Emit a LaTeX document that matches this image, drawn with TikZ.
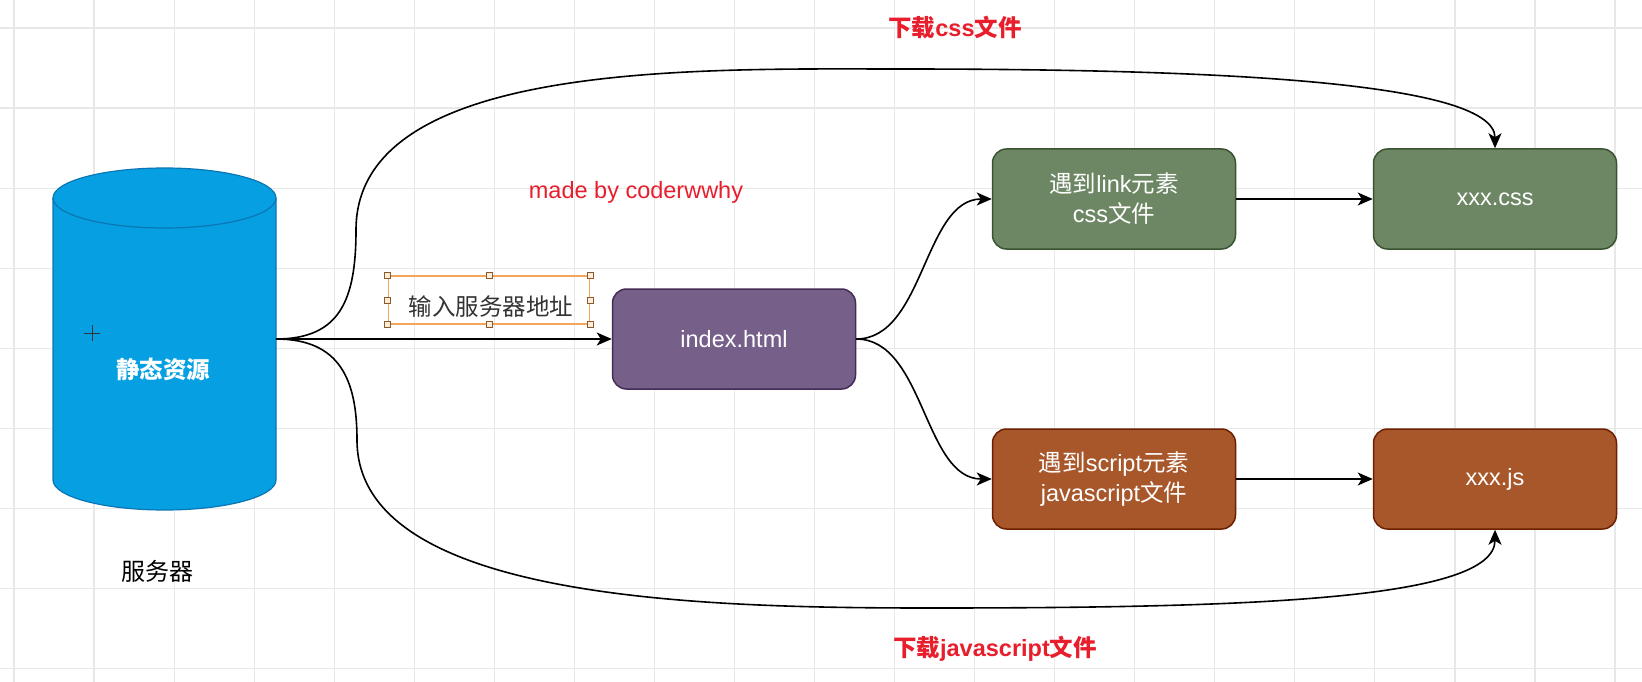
\documentclass[tikz,border=0pt]{standalone}
\usepackage{fontspec}
\setmainfont{Liberation Sans}
\newfontfamily\cjk{Noto Sans CJK SC}
\usepackage{tikz}
\usetikzlibrary{positioning, arrows.meta, shapes.geometric}

\definecolor{gridgray}{HTML}{E8E8E8}
\definecolor{dbfill}{HTML}{06A0E2}
\definecolor{dbborder}{HTML}{0A76B4}
\definecolor{pagefill}{HTML}{76608A}
\definecolor{pageborder}{HTML}{432D57}
\definecolor{cssfill}{HTML}{6D8764}
\definecolor{cssborder}{HTML}{3A5431}
\definecolor{jsfill}{HTML}{A8572B}
\definecolor{jsborder}{HTML}{6D1F00}
\definecolor{selorange}{HTML}{F2A55A}
\definecolor{handleedge}{HTML}{8A5A2B}
\definecolor{notered}{HTML}{E81E2C}
\definecolor{textgray}{HTML}{333333}

\begin{document}
\begin{tikzpicture}[x=1pt, y=-1pt,
    gridline/.style={draw=gridgray, line width=1.2pt},
    dbanchor/.style={rectangle, minimum width=223pt, minimum height=342pt, inner sep=0pt, outer sep=0pt},
    dbpaint/.style={draw=dbborder, fill=dbfill, line width=1.2pt},
    filebox/.style={rectangle, rounded corners=14pt, line width=1.5pt, minimum width=243pt,
        minimum height=100pt, align=center, text=white, font=\fontsize{23.5}{30}\selectfont},
    pagebox/.style={filebox, fill=pagefill, draw=pageborder},
    cssbox/.style={filebox, fill=cssfill, draw=cssborder},
    jsbox/.style={filebox, fill=jsfill, draw=jsborder},
    addrbox/.style={draw=selorange, line width=1.5pt, minimum width=201pt, minimum height=48pt, inner sep=0pt},
    addrtext/.style={text=textgray, font=\cjk\fontsize{23.5}{28}\selectfont},
    handle/.style={draw=handleedge, fill=orange!15, line width=0.8pt, minimum size=6pt, inner sep=0pt},
    cjktext/.style={text=black, font=\cjk\fontsize{24}{28}\selectfont},
    dbtext/.style={text=white, font=\cjk\bfseries\fontsize{23.5}{28}\selectfont},
    redlabel/.style={text=notered, font=\fontsize{23.5}{28}\selectfont},
    redtitle/.style={text=notered, font=\bfseries\fontsize{23.5}{28}\selectfont},
    flow/.style={line width=1.6pt, -{Stealth[length=15pt, width=13pt, inset=4pt]}}
]
    \fill[white] (0,0) rectangle (1642,682);
    \useasboundingbox (0,0) rectangle (1642,682);

    % background grid
    \foreach \gx in {0,...,20}
        \draw[gridline] ({14+80.05*\gx},0) -- ({14+80.05*\gx},682);
    \foreach \gy in {0,...,8}
        \draw[gridline] (0,{28+80.1*\gy}) -- (1642,{28+80.1*\gy});

    % server
    \node[dbanchor] (server) at (164.5,339) {};
    \draw[dbpaint] (53,198) -- (53,480) arc[start angle=180, end angle=0, x radius=111.5, y radius=30]
        -- (276,198) arc[start angle=0, end angle=-180, x radius=111.5, y radius=30] -- cycle;
    \draw[dbborder, line width=1.2pt] (53,198) arc[start angle=180, end angle=0, x radius=111.5, y radius=30];
    \node[dbtext] (serverlabel) at (163,369) {静态资源};
    \node[cjktext] (servername) at (157,571) {服务器};
    \draw[textgray, line width=0.8pt] (84,333) -- (100,333) (92,325) -- (92,341);

    % files
    \node[pagebox] (index) at (734,339) {index.html};
    \node[cssbox] (link) at (1114,199) {{\cjk 遇到}link{\cjk 元素}\\css{\cjk 文件}};
    \node[cssbox] (css) at (1495,199) {xxx.css};
    \node[jsbox] (script) at (1114,479) {{\cjk 遇到}script{\cjk 元素}\\javascript{\cjk 文件}};
    \node[jsbox] (js) at (1495,479) {xxx.js};

    % notes
    \node[redlabel] (made) at (636,192) {made by coderwwhy};
    \node[redtitle] (dlcss) at (955,28) {{\cjk 下载}css{\cjk 文件}};
    \node[redtitle] (dljs) at (995,649) {{\cjk 下载}javascript{\cjk 文件}};

    % selected label
    \node[addrbox] (addr) at (489,300) {};
    \node[addrtext] (addrlabel) at (491,307) {输入服务器地址};
    \foreach \a/\n in {north west/1, north/2, north east/3, east/4, south east/5, south/6, south west/7, west/8}
        \node[handle] (handle\n) at (addr.\a) {};

    % connectors
    \coordinate (topbend) at (356,230);
    \coordinate (toppeak) at (900,69);
    \coordinate (lowbend) at (357,440);
    \coordinate (lowpeak) at (930,608);
    \draw[flow] (server.east) -- (index.west);
    \draw[flow] (server.east) .. controls +(64,0) and +(0,70) .. (topbend)
        .. controls (356,60) and (700,69) .. (toppeak)
        .. controls (1200,69) and (1495,80) .. (css.north);
    \draw[flow] (server.east) .. controls +(64,0) and +(0,-60) .. (lowbend)
        .. controls (357,600) and (700,608) .. (lowpeak)
        .. controls (1250,608) and (1495,600) .. (js.south);
    \draw[flow] (index.east) .. controls +(68,0) and +(-68,0) .. (link.west);
    \draw[flow] (index.east) .. controls +(68,0) and +(-68,0) .. (script.west);
    \draw[flow] (link) -- (css);
    \draw[flow] (script) -- (js);
\end{tikzpicture}
\end{document}
